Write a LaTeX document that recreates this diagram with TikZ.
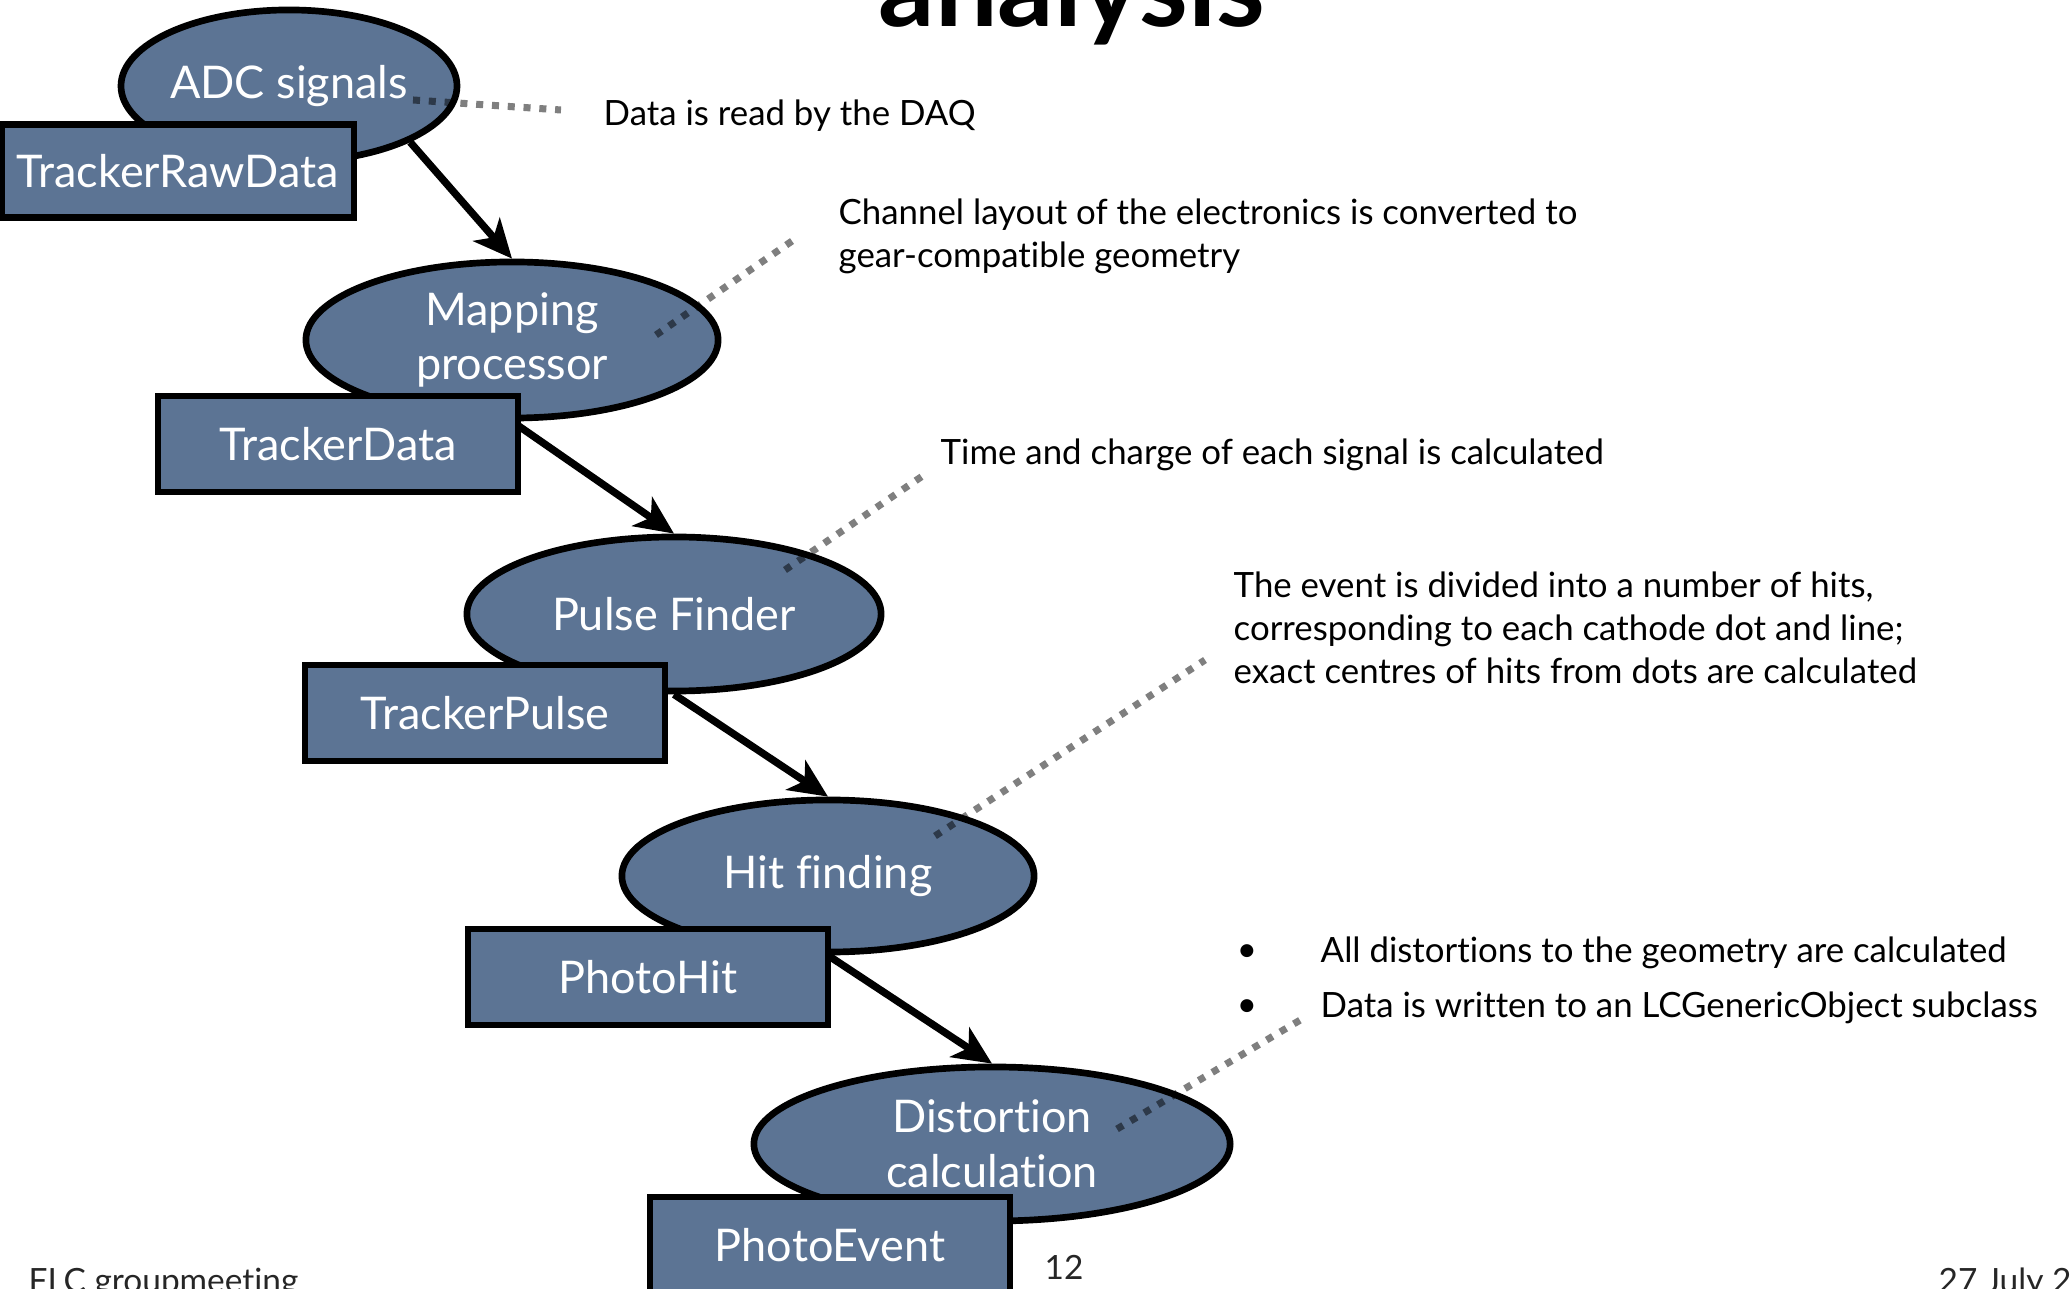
\documentclass[tikz,border=0pt]{standalone}
\usepackage{fontspec}
\setmainfont{Lato}[Ligatures=NoCommon]
\usetikzlibrary{arrows.meta,shapes.geometric}
\definecolor{slate}{RGB}{92,116,148}
\begin{document}
\begin{tikzpicture}[x=0.01cm,y=-0.01cm,
  proc/.style={ellipse, draw=black, line width=1.9pt, fill=slate, text=white,
    font=\fontsize{12.8}{15.6}\selectfont, align=center, inner sep=0pt},
  datab/.style={rectangle, draw=black, line width=1.9pt, fill=slate, text=white,
    font=\fontsize{12.8}{15.6}\selectfont, minimum width=3.6cm, minimum height=0.96cm, inner sep=0pt},
  flow/.style={-{Stealth[length=11pt,width=10pt,inset=3pt]}, line width=2.1pt},
  callout/.style={draw=black, draw opacity=0.5, line width=2pt, dash pattern=on 2pt off 2.5pt},
  note/.style={font=\fontsize{9.9}{12.2}\selectfont, inner sep=0pt, align=left},
  foot/.style={font=\fontsize{9.5}{11}\selectfont, text=black!85, inner sep=0pt},
  titletext/.style={font=\fontsize{31.6}{36}\selectfont\bfseries, inner sep=0pt}]
\useasboundingbox (0,0) rectangle (2070,1289);
\clip (0,0) rectangle (2070,1289);
% title (cut off at top)
\node[titletext, anchor=base west] (title) at (878,27) {analysis};
% process ellipses
\node[proc, minimum width=3.14cm, minimum height=1.52cm] (adc) at (289,86) {ADC signals};
\node[proc, minimum width=4.12cm, minimum height=1.56cm] (map) at (512,340) {Mapping\\processor};
\node[proc, minimum width=4.14cm, minimum height=1.54cm] (pulse) at (674,614) {Pulse Finder};
\node[proc, minimum width=4.12cm, minimum height=1.52cm] (hit) at (828,876) {Hit finding};
\node[proc, minimum width=4.76cm, minimum height=1.54cm] (dist) at (992,1144) {Distortion\\calculation};
% flow arrows
\draw[flow] (adc.south east) -- (map.north);
\draw[flow] (map.south) -- (pulse.north);
\draw[flow] (pulse.south) -- (hit.north);
\draw[flow] (hit.south) -- (dist.north);
% data boxes
\node[datab, minimum width=3.52cm, minimum height=0.93cm] (raw) at (178,171) {TrackerRawData};
\node[datab] (tdata) at (338,444) {TrackerData};
\node[datab] (tpulse) at (485,713) {TrackerPulse};
\node[datab] (phit) at (648,977) {PhotoHit};
\node[datab] (pevent) at (830,1245) {PhotoEvent};
% notes
\node[note, anchor=west] (n1) at (603,116) {Data is read by the DAQ};
\node[note, anchor=west] (n2) at (838,236) {Channel layout of the electronics is converted to\\gear-compatible geometry};
\node[note, anchor=west] (n3) at (940,455) {Time and charge of each signal is calculated};
\node[note, anchor=west] (n4) at (1233,628) {The event is divided into a number of hits,\\corresponding to each cathode dot and line;\\exact centres of hits from dots are calculated};
\node[note] (bu1) at (1247,953) {•};
\node[note] (bu2) at (1247,1008) {•};
\node[note, anchor=west] (b1) at (1320,953) {All distortions to the geometry are calculated};
\node[note, anchor=west] (b2) at (1320,1008) {Data is written to an LCGenericObject subclass};
% callout lines
\coordinate (c1a) at (413,100); \coordinate (c1b) at (561,110);
\coordinate (c2a) at (656,335); \coordinate (c2b) at (795,239);
\coordinate (c3a) at (785,570); \coordinate (c3b) at (924,475);
\coordinate (c4a) at (935,836); \coordinate (c4b) at (1205,660);
\coordinate (c5a) at (1117,1129); \coordinate (c5b) at (1307,1016);
\draw[callout] (c1a) -- (c1b);
\draw[callout] (c2a) -- (c2b);
\draw[callout] (c3a) -- (c3b);
\draw[callout] (c4a) -- (c4b);
\draw[callout] (c5a) -- (c5b);
% footer
\node[foot, anchor=base west] (f1) at (28,1292) {FLC groupmeeting};
\node[foot] (f2) at (1064,1267) {12};
\node[foot, anchor=base west] (f3) at (1938,1292) {27 July 20};
\end{tikzpicture}
\end{document}
